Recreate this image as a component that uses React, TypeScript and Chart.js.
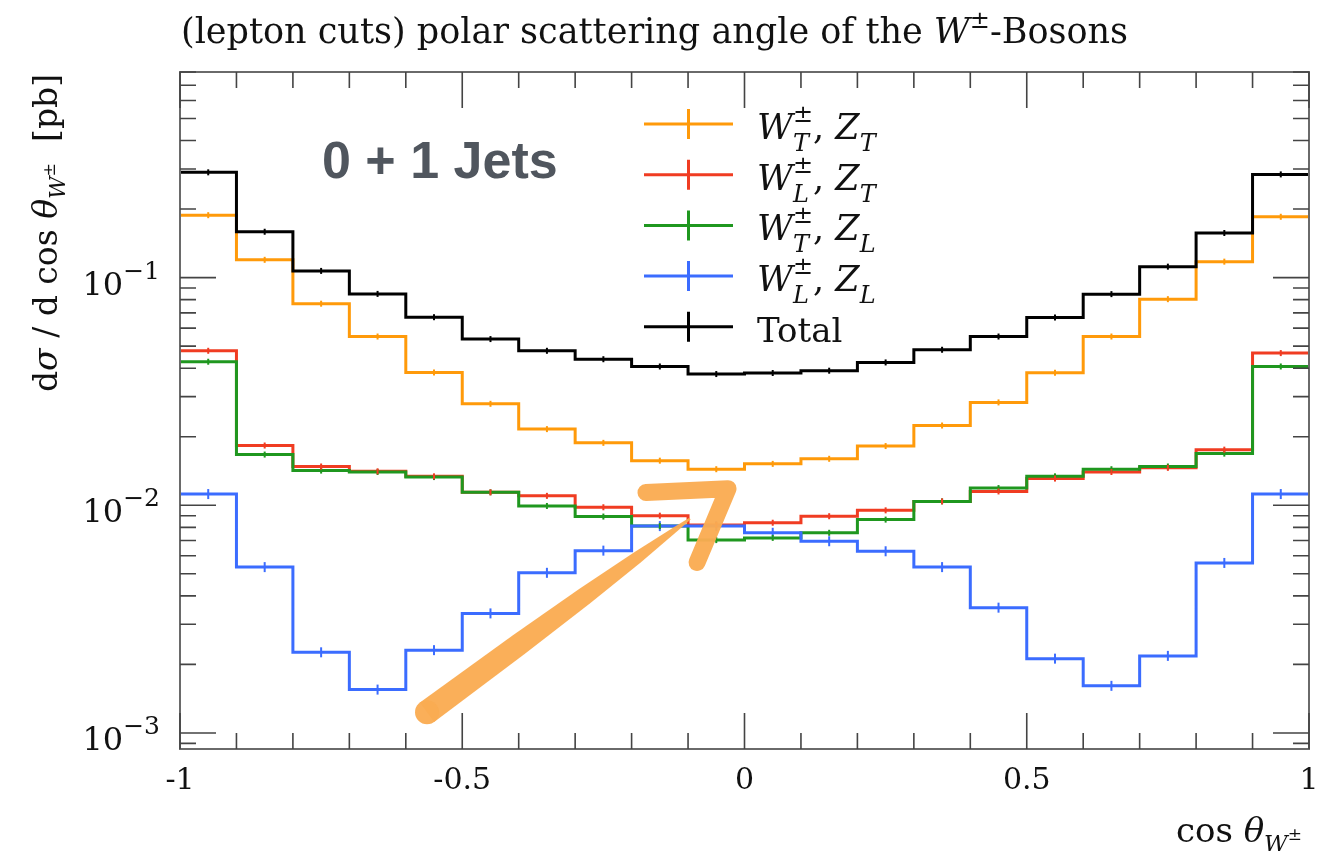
import React, { useEffect, useRef } from 'react';
import { Chart, registerables } from 'chart.js';

Chart.register(...registerables);

// ---------- data ----------
const binEdges = [-1, -0.9, -0.8, -0.7, -0.6, -0.5, -0.4, -0.3, -0.2, -0.1, 0, 0.1, 0.2, 0.3, 0.4, 0.5, 0.6, 0.7, 0.8, 0.9, 1];

const totalVals = [0.29, 0.159, 0.107, 0.0848, 0.067, 0.0537, 0.0477, 0.0438, 0.0407, 0.0377, 0.0381, 0.039, 0.0424, 0.0482, 0.0551, 0.0668, 0.0846, 0.1117, 0.157, 0.284];
const wtztVals = [0.188, 0.1197, 0.0768, 0.0551, 0.0383, 0.0279, 0.0216, 0.0188, 0.0157, 0.0144, 0.0152, 0.016, 0.0182, 0.0224, 0.0283, 0.0382, 0.0551, 0.0804, 0.1175, 0.185];
const wlztVals = [0.0477, 0.0183, 0.0148, 0.0141, 0.0134, 0.0114, 0.011, 0.0098, 0.009, 0.0082, 0.00838, 0.00895, 0.0095, 0.0104, 0.0115, 0.0131, 0.014, 0.0146, 0.01755, 0.0466];
const wtzlVals = [0.0427, 0.0167, 0.0142, 0.014, 0.0133, 0.0114, 0.00993, 0.00892, 0.0081, 0.00703, 0.00719, 0.00757, 0.00865, 0.0104, 0.0119, 0.0134, 0.0144, 0.0148, 0.01686, 0.0407];
const wlzlVals = [0.0112, 0.00535, 0.00226, 0.00155, 0.00231, 0.00335, 0.00505, 0.00632, 0.0081, 0.0081, 0.00757, 0.00695, 0.00628, 0.00535, 0.00355, 0.00212, 0.00161, 0.00218, 0.00558, 0.0112];

const xMajorTicks = [-1, -0.5, 0, 0.5, 1];
const xTickLabels = ['-1', '-0.5', '0', '0.5', '1'];
const xMinorStep = 0.1;
const yDecades = [1e-3, 1e-2, 1e-1];
const yDecadeExps = ['\u22123', '\u22122', '\u22121'];
const yMin = 8.5e-4;
const yMax = 0.8;

// hand-drawn annotation arrow (data coordinates)
const arrowShaftX = [-0.5624, -0.0965];
const arrowShaftY = [0.001233, 0.00874];
const arrowHeadX = [-0.1745, -0.0292, -0.0841];
const arrowHeadY = [0.01137, 0.01183, 0.00561];

const titleText = '(lepton cuts) polar scattering angle of the ';
const jetsText = '0 + 1 Jets';

const COLORS = {
  wtzt: '#ff9a0a',
  wlzt: '#f03c22',
  wtzl: '#1f971f',
  wlzl: '#3b6cff',
  total: '#000000',
};

// ---------- rich text helpers ----------
interface Seg {
  t: string;
  size: number;
  it?: boolean;
  dy?: number;
  stack?: Seg;
}
const SERIF = '"DejaVu Serif", "Liberation Serif", serif';
function segFont(s: Seg) {
  return `${s.it ? 'italic ' : ''}${s.size}px ${SERIF}`;
}
function segWidth(ctx: CanvasRenderingContext2D, s: Seg) {
  ctx.font = segFont(s);
  let w = ctx.measureText(s.t).width;
  if (s.stack) {
    ctx.font = segFont(s.stack);
    w = Math.max(w, ctx.measureText(s.stack.t).width);
  }
  return w;
}
function drawSegs(ctx: CanvasRenderingContext2D, segs: Seg[], x: number, y: number, align: 'left' | 'center' | 'right', color = '#111') {
  const total = segs.reduce((a, s) => a + segWidth(ctx, s), 0);
  let cx = align === 'right' ? x - total : align === 'center' ? x - total / 2 : x;
  ctx.fillStyle = color;
  ctx.textAlign = 'left';
  ctx.textBaseline = 'alphabetic';
  for (const s of segs) {
    const w = segWidth(ctx, s);
    ctx.font = segFont(s);
    ctx.fillText(s.t, cx, y + (s.dy || 0));
    if (s.stack) {
      ctx.font = segFont(s.stack);
      ctx.fillText(s.stack.t, cx, y + (s.stack.dy || 0));
    }
    cx += w;
  }
}

function wzLabel(wPol: string, zPol: string): Seg[] {
  return [
    { t: 'W', size: 35, it: true },
    { t: '\u00b1', size: 24, dy: -17, stack: { t: wPol, size: 24, it: true, dy: 12 } },
    { t: ', ', size: 35 },
    { t: 'Z', size: 35, it: true },
    { t: zPol, size: 24, it: true, dy: 12 },
  ];
}

const legendEntries = [
  { segs: wzLabel('T', 'T'), color: COLORS.wtzt },
  { segs: wzLabel('L', 'T'), color: COLORS.wlzt },
  { segs: wzLabel('T', 'L'), color: COLORS.wtzl },
  { segs: wzLabel('L', 'L'), color: COLORS.wlzl },
  { segs: [{ t: 'Total', size: 34 }] as Seg[], color: COLORS.total },
];

function stepData(vals: number[]) {
  return binEdges.map((x, i) => ({ x, y: vals[Math.min(i, vals.length - 1)] }));
}

const decorPlugin = {
  id: 'decor',
  afterDatasetsDraw(chart: any) {
    const ctx: CanvasRenderingContext2D = chart.ctx;
    const xs = chart.scales.x;
    const ys = chart.scales.y;
    chart.data.datasets.forEach((ds: any) => {
      const vals: number[] = ds.binVals;
      ctx.save();
      ctx.strokeStyle = ds.borderColor;
      ctx.lineWidth = 2;
      vals.forEach((v, i) => {
        const cx = xs.getPixelForValue((binEdges[i] + binEdges[i + 1]) / 2);
        const cy = ys.getPixelForValue(v);
        ctx.beginPath();
        ctx.moveTo(cx, cy - ds.errHalf);
        ctx.lineTo(cx, cy + ds.errHalf);
        ctx.stroke();
      });
      ctx.restore();
    });
  },
  afterDraw(chart: any) {
    const ctx: CanvasRenderingContext2D = chart.ctx;
    const xs = chart.scales.x;
    const ys = chart.scales.y;
    const { left, right, top, bottom } = chart.chartArea;
    ctx.save();

    // frame
    ctx.strokeStyle = '#6a6a6a';
    ctx.lineWidth = 2;
    ctx.strokeRect(left, top, right - left, bottom - top);

    // x ticks
    ctx.strokeStyle = '#444';
    ctx.lineWidth = 1.6;
    const nMinor = Math.round((xs.max - xs.min) / xMinorStep);
    for (let k = 0; k <= nMinor; k++) {
      const v = xs.min + k * xMinorStep;
      const isMajor = xMajorTicks.some((m) => Math.abs(m - v) < 1e-6);
      const len = isMajor ? 36 : 16;
      const px = xs.getPixelForValue(v);
      ctx.beginPath();
      ctx.moveTo(px, bottom);
      ctx.lineTo(px, bottom - len);
      ctx.moveTo(px, top);
      ctx.lineTo(px, top + len);
      ctx.stroke();
    }
    // y ticks
    for (let e = -4; e <= 0; e++) {
      for (let m = 1; m <= 9; m++) {
        const v = m * Math.pow(10, e);
        if (v < yMin * 0.999 || v > yMax * 1.001) continue;
        const py = ys.getPixelForValue(v);
        const len = m === 1 ? 36 : 16;
        ctx.beginPath();
        ctx.moveTo(left, py);
        ctx.lineTo(left + len, py);
        ctx.moveTo(right, py);
        ctx.lineTo(right - len, py);
        ctx.stroke();
      }
    }

    // x tick labels
    xMajorTicks.forEach((v, i) => {
      drawSegs(ctx, [{ t: xTickLabels[i], size: 30 }], xs.getPixelForValue(v), bottom + 40, 'center');
    });
    // y tick labels
    yDecades.forEach((v, i) => {
      const py = ys.getPixelForValue(v);
      drawSegs(ctx, [{ t: '10', size: 32 }, { t: yDecadeExps[i], size: 25, dy: -16 }], 160, py + 17, 'right');
    });

    // title
    drawSegs(
      ctx,
      [
        { t: titleText, size: 35 },
        { t: 'W', size: 35, it: true },
        { t: '\u00b1', size: 24, dy: -15 },
        { t: '-Bosons', size: 35 },
      ],
      181,
      43,
      'left'
    );

    // x axis title
    drawSegs(
      ctx,
      [
        { t: 'cos ', size: 34 },
        { t: '\u03b8', size: 34, it: true },
        { t: 'W', size: 23, it: true, dy: 9 },
        { t: '\u00b1', size: 17, dy: -2 },
      ],
      1302,
      842,
      'right'
    );

    // y axis title (rotated)
    ctx.save();
    ctx.translate(57, 233);
    ctx.rotate(-Math.PI / 2);
    drawSegs(
      ctx,
      [
        { t: 'd', size: 33 },
        { t: '\u03c3', size: 33, it: true },
        { t: ' / d cos ', size: 33 },
        { t: '\u03b8', size: 33, it: true },
        { t: 'W', size: 22, it: true, dy: 8 },
        { t: '\u00b1', size: 16, dy: -2 },
        { t: '  [pb]', size: 33 },
      ],
      0,
      0,
      'center'
    );
    ctx.restore();

    // legend
    legendEntries.forEach((en, i) => {
      const yc = 124 + i * 50.7;
      ctx.strokeStyle = en.color;
      ctx.lineWidth = 3;
      ctx.beginPath();
      ctx.moveTo(644, yc);
      ctx.lineTo(733, yc);
      ctx.moveTo(688.5, yc - 15);
      ctx.lineTo(688.5, yc + 15);
      ctx.stroke();
      drawSegs(ctx, en.segs, 757, yc + 15, 'left');
    });

    // "0 + 1 Jets"
    ctx.fillStyle = '#50565e';
    ctx.font = 'bold 52px "Liberation Sans", Arial, sans-serif';
    ctx.textAlign = 'left';
    ctx.textBaseline = 'alphabetic';
    ctx.fillText(jetsText, 322, 178);

    // hand-drawn arrow annotation
    const ax0 = xs.getPixelForValue(arrowShaftX[0]);
    const ay0 = ys.getPixelForValue(arrowShaftY[0]);
    const ax1 = xs.getPixelForValue(arrowShaftX[1]);
    const ay1 = ys.getPixelForValue(arrowShaftY[1]);
    const dx = ax1 - ax0;
    const dy = ay1 - ay0;
    const L = Math.hypot(dx, dy);
    const nx = -dy / L;
    const ny = dx / L;
    const ux = dx / L;
    const uy = dy / L;
    const col = 'rgba(250,172,82,0.96)';
    ctx.fillStyle = col;
    // tapered brush: wide for most of its length, pointed at the tip
    const prof = [
      [0, 12],
      [0.35, 11],
      [0.6, 9],
      [0.8, 6],
      [0.95, 2.5],
      [1, 1],
    ];
    ctx.beginPath();
    prof.forEach(([t, w], k) => {
      const px = ax0 + ux * L * t + nx * w;
      const py = ay0 + uy * L * t + ny * w;
      if (k === 0) ctx.moveTo(px, py);
      else ctx.lineTo(px, py);
    });
    for (let k = prof.length - 1; k >= 0; k--) {
      const [t, w] = prof[k];
      ctx.lineTo(ax0 + ux * L * t - nx * w, ay0 + uy * L * t - ny * w);
    }
    ctx.closePath();
    ctx.fill();
    ctx.beginPath();
    ctx.arc(ax0, ay0, 12, 0, Math.PI * 2);
    ctx.fill();

    ctx.strokeStyle = col;
    ctx.lineCap = 'round';
    ctx.lineJoin = 'round';
    ctx.lineWidth = 17;
    ctx.beginPath();
    ctx.moveTo(xs.getPixelForValue(arrowHeadX[0]), ys.getPixelForValue(arrowHeadY[0]));
    ctx.lineTo(xs.getPixelForValue(arrowHeadX[1]), ys.getPixelForValue(arrowHeadY[1]));
    ctx.lineTo(xs.getPixelForValue(arrowHeadX[2]), ys.getPixelForValue(arrowHeadY[2]));
    ctx.stroke();

    ctx.restore();
  },
};

export default function App() {
  const ref = useRef<HTMLCanvasElement | null>(null);
  useEffect(() => {
    if (!ref.current) return;
    const mk = (vals: number[], color: string, errHalf: number) => ({
      data: stepData(vals),
      binVals: vals,
      errHalf,
      borderColor: color,
      backgroundColor: color,
      borderWidth: 3,
      pointRadius: 0,
      stepped: 'before' as const,
      fill: false,
    });
    const chart = new Chart(ref.current, {
      type: 'line',
      data: {
        datasets: [
          mk(totalVals, COLORS.total, 3),
          mk(wlzlVals, COLORS.wlzl, 5),
          mk(wtzlVals, COLORS.wtzl, 3),
          mk(wlztVals, COLORS.wlzt, 3),
          mk(wtztVals, COLORS.wtzt, 3),
        ] as any,
      },
      options: {
        animation: false,
        responsive: false,
        maintainAspectRatio: false,
        layout: { padding: { left: 180, right: 19, top: 72, bottom: 105 } },
        plugins: { legend: { display: false }, tooltip: { enabled: false }, title: { display: false } },
        scales: {
          x: { type: 'linear', min: -1, max: 1, display: false },
          y: { type: 'logarithmic', min: yMin, max: yMax, display: false },
        },
      },
      plugins: [decorPlugin],
    });
    return () => chart.destroy();
  }, []);
  return (
    <div style={{ position: 'fixed', left: 0, top: 0, width: 1328, height: 854, background: '#fff' }}>
      <canvas ref={ref} width={1328} height={854} style={{ display: 'block', width: 1328, height: 854 }} />
    </div>
  );
}
